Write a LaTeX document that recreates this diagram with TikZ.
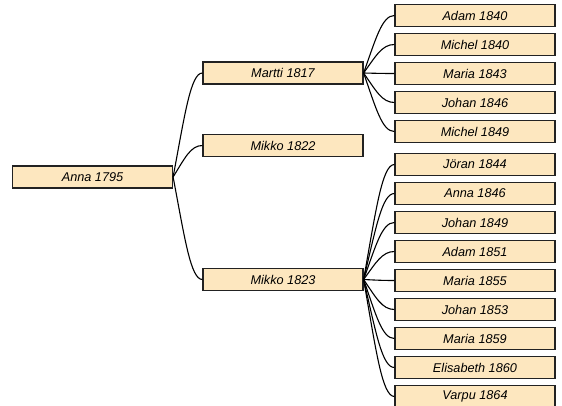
\documentclass[tikz,border=0pt]{standalone}
\usepackage{fontspec}
\setmainfont{Liberation Sans}
\usetikzlibrary{calc}
\definecolor{boxfill}{RGB}{253,231,191}
\definecolor{boxline}{RGB}{34,34,34}
\newcommand{\kin}[2]{\draw[kinline] let \p1=(#1.east), \p2=(#2.west) in (\p1) .. controls ({\x1+0.4*(\x2-\x1)},{\y1+0.6*(\y2-\y1)}) and ({\x1+0.6*(\x2-\x1)},\y2) .. (\p2);}

\begin{document}
\begin{tikzpicture}[
    x=1pt,y=1pt,
    person/.style={draw=boxline,fill=boxfill,line width=1.2pt,minimum width=160pt,minimum height=22pt,inner sep=0pt,font=\fontsize{12.7}{15}\selectfont\itshape},
    kinline/.style={line width=1.1pt,black},
    ]
    \useasboundingbox (0,0) rectangle (562,405);
    \begin{scope}
    \clip (0,0) rectangle (562,405);
    \node[person] (anna) at (92.5,228) {Anna 1795};
    \node[person] (martti) at (283,332) {Martti 1817};
    \node[person] (mikkoa) at (283,259.5) {Mikko 1822};
    \node[person] (mikkob) at (283,125.5) {Mikko 1823};
    \kin{anna}{martti}
    \kin{anna}{mikkoa}
    \kin{anna}{mikkob}
    % children of Martti
    \foreach \who [count=\i] in {Adam 1840, Michel 1840, Maria 1843, Johan 1846, Michel 1849}{
      \node[person] (ma\i) at (475,{405-(15.5+29*(\i-1))}) {\who};
      \kin{martti}{ma\i}
    }
    % children of Mikko 1823
    \foreach \who [count=\i] in {Jöran 1844, Anna 1846, Johan 1849, Adam 1851, Maria 1855, Johan 1853, Maria 1859, Elisabeth 1860, Varpu 1864}{
      \node[person] (mb\i) at (475,{405-(164.5+29*(\i-1))}) {\who};
      \kin{mikkob}{mb\i}
    }
    \end{scope}
\end{tikzpicture}
\end{document}
